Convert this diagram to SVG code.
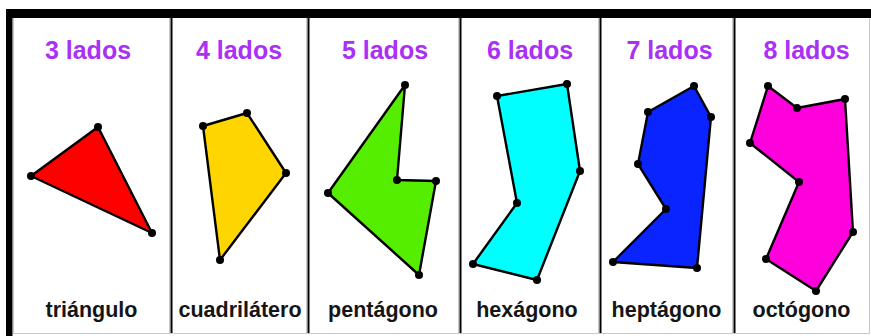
<svg xmlns="http://www.w3.org/2000/svg" width="871" height="336" viewBox="0 0 871 336">
<style>
.title{font-family:"Liberation Sans",Arial,sans-serif;font-size:25px;font-weight:bold;fill:#aa30f5;text-anchor:middle}
.label{font-family:"Liberation Sans",Arial,sans-serif;font-size:21.5px;font-weight:bold;fill:#151515;text-anchor:middle}
.poly{stroke:#000;stroke-width:2.4;stroke-linejoin:round}
.div{stroke:#000;stroke-width:2}
.edge{stroke:#c8c8c8;stroke-width:1}
</style>
<defs>
<circle id="v" r="4" fill="#000"/>
</defs>
<rect x="0" y="0" width="871" height="336" fill="#fff"/>
<g id="frame">
<line class="edge" x1="13.5" y1="18" x2="13.5" y2="333"/>
<line class="edge" x1="13" y1="333.5" x2="870" y2="333.5"/>
<line class="edge" x1="869.5" y1="18" x2="869.5" y2="333"/>
<line class="edge" x1="169.5" y1="18" x2="169.5" y2="333"/>
<line class="edge" x1="306.5" y1="18" x2="306.5" y2="333"/>
<line class="edge" x1="458.5" y1="18" x2="458.5" y2="333"/>
<line class="edge" x1="598.5" y1="18" x2="598.5" y2="333"/>
<line class="edge" x1="732.5" y1="18" x2="732.5" y2="333"/>
<line class="div" x1="171.5" y1="18" x2="171.5" y2="333"/>
<line class="div" x1="308.5" y1="18" x2="308.5" y2="333"/>
<line class="div" x1="460.5" y1="18" x2="460.5" y2="333"/>
<line class="div" x1="600.5" y1="18" x2="600.5" y2="333"/>
<line class="div" x1="734.5" y1="18" x2="734.5" y2="333"/>
<rect x="6" y="9" width="865" height="9" fill="#000"/>
<rect x="6" y="9" width="6.5" height="327" fill="#000"/>
</g>
<g id="triangulo">
<text class="title" x="88" y="59">3 lados</text>
<polygon class="poly" fill="#ff0000" points="98,127 152,233 31,176"/>
<use href="#v" x="98" y="127"/><use href="#v" x="152" y="233"/><use href="#v" x="31" y="176"/>
<text class="label" x="91.5" y="317">triángulo</text>
</g>
<g id="cuadrilatero">
<text class="title" x="239" y="59">4 lados</text>
<polygon class="poly" fill="#ffd500" points="203,126 247,113 286,173 220,260"/>
<use href="#v" x="203" y="126"/><use href="#v" x="247" y="113"/><use href="#v" x="286" y="173"/><use href="#v" x="220" y="260"/>
<text class="label" x="240" y="317">cuadrilátero</text>
</g>
<g id="pentagono">
<text class="title" x="385" y="59">5 lados</text>
<polygon class="poly" fill="#55ee00" points="405,85 397,180 436,181 419,275 328,193"/>
<use href="#v" x="405" y="85"/><use href="#v" x="397" y="180"/><use href="#v" x="436" y="181"/><use href="#v" x="419" y="275"/><use href="#v" x="328" y="193"/>
<text class="label" x="383" y="317">pentágono</text>
</g>
<g id="hexagono">
<text class="title" x="530" y="59">6 lados</text>
<polygon class="poly" fill="#00ffff" points="497,96 567,84 580,171 537,280 473,264 517,203"/>
<use href="#v" x="497" y="96"/><use href="#v" x="567" y="84"/><use href="#v" x="580" y="171"/><use href="#v" x="537" y="280"/><use href="#v" x="473" y="264"/><use href="#v" x="517" y="203"/>
<text class="label" x="527" y="317">hexágono</text>
</g>
<g id="heptagono">
<text class="title" x="669.5" y="59">7 lados</text>
<polygon class="poly" fill="#0a24ff" points="694,86 711,117 697,268 613,262 666,209 638,164 648,112"/>
<use href="#v" x="694" y="86"/><use href="#v" x="711" y="117"/><use href="#v" x="697" y="268"/><use href="#v" x="613" y="262"/><use href="#v" x="666" y="209"/><use href="#v" x="638" y="164"/><use href="#v" x="648" y="112"/>
<text class="label" x="666.5" y="317">heptágono</text>
</g>
<g id="octogono">
<text class="title" x="806.5" y="59">8 lados</text>
<polygon class="poly" fill="#ff00dd" points="768,86 797,108 845,99 853,232 816,291 766,259 799,182 750,143"/>
<use href="#v" x="768" y="86"/><use href="#v" x="797" y="108"/><use href="#v" x="845" y="99"/><use href="#v" x="853" y="232"/><use href="#v" x="816" y="291"/><use href="#v" x="766" y="259"/><use href="#v" x="799" y="182"/><use href="#v" x="750" y="143"/>
<text class="label" x="801.5" y="317">octógono</text>
</g>
</svg>
